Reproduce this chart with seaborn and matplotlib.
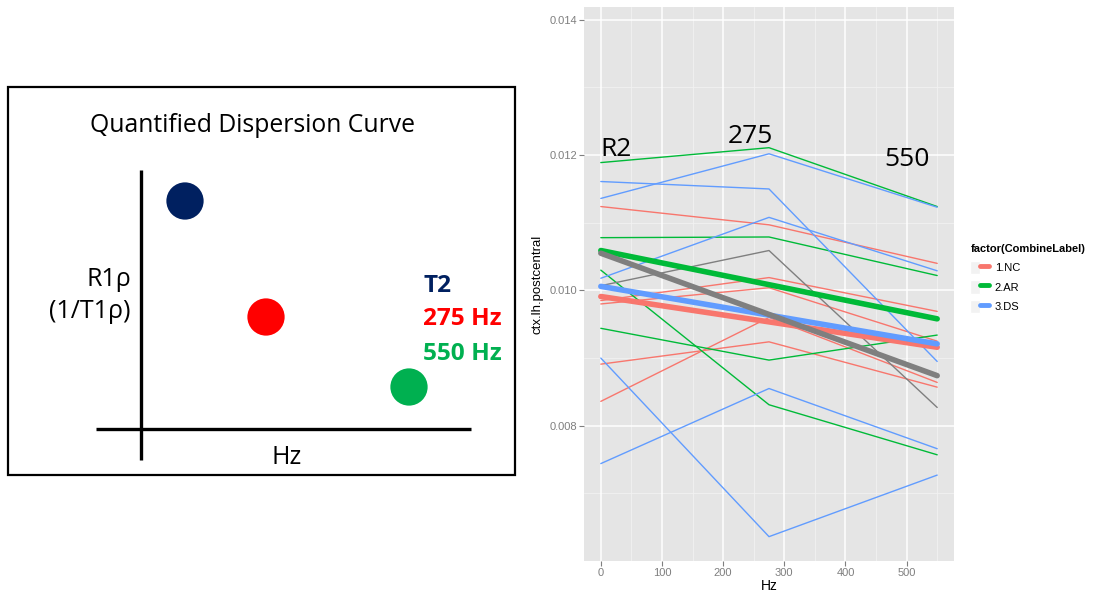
import numpy as np
import pandas as pd
import matplotlib
matplotlib.use("Agg")
import matplotlib.pyplot as plt
import seaborn as sns
from matplotlib.lines import Line2D
from matplotlib.patches import Rectangle
from matplotlib.legend_handler import HandlerTuple

sns.set_theme(style="white")
plt.rcParams["font.family"] = ["Liberation Sans", "DejaVu Sans"]
plt.rcParams["text.color"] = "black"

# ---------------- data (right panel) ----------------
hz = [0, 275, 550]
groups = ["1.NC", "2.AR", "3.DS"]
palette = {"1.NC": "#F8766D", "2.AR": "#00BA38", "3.DS": "#619CFF"}

nc_1 = [0.01124, 0.01097, 0.01040]
nc_2 = [0.00985, 0.01019, 0.00969]
nc_3 = [0.00980, 0.01004, 0.00925]
nc_4 = [0.00891, 0.00924, 0.00857]
nc_5 = [0.00836, 0.00960, 0.00864]

ar_1 = [0.01189, 0.01211, 0.01124]
ar_2 = [0.01078, 0.01079, 0.01022]
ar_3 = [0.01030, 0.00831, 0.00757]
ar_4 = [0.00944, 0.00897, 0.00934]

ds_1 = [0.01136, 0.01202, 0.01123]
ds_2 = [0.01161, 0.01150, 0.00895]
ds_3 = [0.01018, 0.01108, 0.01029]
ds_4 = [0.00900, 0.00636, 0.00727]
ds_5 = [0.00744, 0.00855, 0.00766]

other_1 = [0.01007, 0.01059, 0.00827]

fit_hz = [0, 550]
fit_nc = [0.00991, 0.00916]
fit_ar = [0.01059, 0.00958]
fit_ds = [0.01006, 0.00921]
fit_all = [0.01055, 0.00874]

yticks = [0.008, 0.010, 0.012, 0.014]
xticks = [0, 100, 200, 300, 400, 500]

# ---------------- data (left schematic) ----------------
diag_labels = ["T2", "275 Hz", "550 Hz"]
diag_colors = ["#002060", "#FF0000", "#00B050"]
diag_x = [185, 266, 409]
diag_y = [201, 317, 387]

# ---------------- build frames ----------------
subjects = {
    "1.NC": [nc_1, nc_2, nc_3, nc_4, nc_5],
    "2.AR": [ar_1, ar_2, ar_3, ar_4],
    "3.DS": [ds_1, ds_2, ds_3, ds_4, ds_5],
}
rows = []
sid = 0
for g, lst in subjects.items():
    for vals in lst:
        sid += 1
        for h, v in zip(hz, vals):
            rows.append({"subject": sid, "group": g, "Hz": h, "value": v})
df = pd.DataFrame(rows)
df_other = pd.DataFrame({"Hz": hz, "value": other_1})

fits = []
for g, vals in zip(groups, [fit_nc, fit_ar, fit_ds]):
    for h, v in zip(fit_hz, vals):
        fits.append({"group": g, "Hz": h, "value": v})
df_fit = pd.DataFrame(fits)
df_fit_all = pd.DataFrame({"Hz": fit_hz, "value": fit_all})

W, H = 1102, 597
fig = plt.figure(figsize=(W / 100, H / 100), dpi=100)
fig.patch.set_facecolor("white")

# ---------------- left schematic ----------------
axl = fig.add_axes([0, 0, 551 / W, 1])
axl.set_xlim(0, 551)
axl.set_ylim(H, 0)
axl.axis("off")
axl.add_patch(Rectangle((8, 87), 507, 388, fill=False, lw=1.6, ec="black"))
axl.plot([141, 141], [170, 460], color="black", lw=2.4, solid_capstyle="butt")
axl.plot([96, 471], [429, 429], color="black", lw=2.4, solid_capstyle="butt")
sns.scatterplot(x=diag_x, y=diag_y, hue=diag_labels, palette=dict(zip(diag_labels, diag_colors)),
                s=720, linewidth=0, legend=False, ax=axl)
tf = ["Open Sans", "DejaVu Sans"]
axl.text(253, 125, "Quantified Dispersion Curve", ha="center", va="center", fontsize=17.8,
         family=tf, color="black")
axl.text(131, 279, "R1ρ", ha="right", va="center", fontsize=18, family=tf, color="black")
axl.text(131, 312, "(1/T1ρ)", ha="right", va="center", fontsize=18, family=tf, color="black")
axl.text(287, 457, "Hz", ha="center", va="center", fontsize=18, family=tf, color="black")
for lab, col, yy in zip(diag_labels, diag_colors, [286, 319, 354]):
    axl.text(423, yy, lab, ha="left", va="center", fontsize=17.6, fontweight="bold", color=col, family=tf)

# ---------------- right chart ----------------
ax = fig.add_axes([584 / W, 1 - 561 / H, 370 / W, 554 / H])
ax.set_facecolor("#E5E5E5")
ax.set_xlim(-27.5, 577.5)
ax.set_ylim(0.00600, 0.01419)
for v in [50, 150, 250, 350, 450, 550]:
    ax.axvline(v, color="#F2F2F2", lw=0.6, zorder=0)
for v in [0.007, 0.009, 0.011, 0.013]:
    ax.axhline(v, color="#F2F2F2", lw=0.6, zorder=0)
for v in xticks:
    ax.axvline(v, color="white", lw=1.1, zorder=0.5)
for v in yticks:
    ax.axhline(v, color="white", lw=1.1, zorder=0.5)

sns.lineplot(data=df, x="Hz", y="value", hue="group", units="subject", estimator=None,
             palette=palette, lw=1.0, legend=False, ax=ax)
sns.lineplot(data=df_other, x="Hz", y="value", color="#7F7F7F", lw=1.0, ax=ax)
sns.lineplot(data=df_fit, x="Hz", y="value", hue="group", palette=palette, lw=4.0,
             legend=False, ax=ax)
sns.lineplot(data=df_fit_all, x="Hz", y="value", color="#7F7F7F", lw=4.0, ax=ax)

ax.set_xticks(xticks)
ax.set_yticks(yticks)
ax.set_xticklabels([str(x) for x in xticks])
ax.set_yticklabels([f"{y:.3f}" for y in yticks])
ax.tick_params(axis="both", length=3.5, width=0.8, color="#7F7F7F", labelcolor="#7F7F7F",
               labelsize=8, pad=1.5, bottom=True, left=True)
for s in ax.spines.values():
    s.set_visible(False)
ax.set_xlabel("Hz", fontsize=10, color="black", labelpad=1)
ax.set_ylabel("ctx.lh.postcentral", fontsize=9.5, color="black", labelpad=4)

af = ["Open Sans", "DejaVu Sans"]
ax.text(0, 0.01209, "R2", ha="left", va="center", fontsize=19, family=af, color="black")
ax.text(245, 0.01228, "275", ha="center", va="center", fontsize=19, family=af, color="black")
ax.text(500, 0.01193, "550", ha="center", va="center", fontsize=19, family=af, color="black")

handles = [(Rectangle((0, 0), 1, 1, fc="#F2F2F2", ec="white", lw=1.0),
            Line2D([0], [0], color=palette[g], lw=3.5)) for g in groups]
leg = fig.legend(handles, groups, loc="upper left", bbox_to_anchor=(966 / W, 1 - 240 / H),
                 frameon=False, title="factor(CombineLabel)", fontsize=8, title_fontsize=8,
                 handlelength=1.7, handleheight=1.5, handletextpad=0.5, labelspacing=0.55,
                 borderaxespad=0, handler_map={tuple: HandlerTuple(ndivide=None, pad=0)})
leg.get_title().set_fontweight("bold")
leg._legend_box.align = "left"

fig.savefig("out.png", dpi=100, facecolor="white")
